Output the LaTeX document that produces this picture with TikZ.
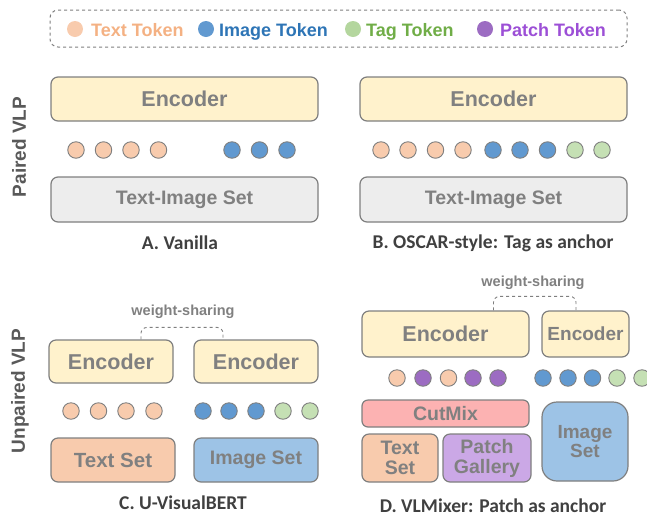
\documentclass[tikz,border=0pt]{standalone}
\usepackage{fontspec}
\setmainfont{Liberation Sans}
\newfontfamily\capfont{Carlito}

\definecolor{edgegray}{HTML}{7F7F7F}
\definecolor{labelgray}{HTML}{808080}
\definecolor{capgray}{HTML}{404040}
\definecolor{sidegray}{HTML}{595959}
\definecolor{encfill}{HTML}{FFF2CC}
\definecolor{setfill}{HTML}{EDEDED}
\definecolor{txtfill}{HTML}{F8CBAD}
\definecolor{imgfill}{HTML}{9DC3E6}
\definecolor{mixfill}{HTML}{FCB2B2}
\definecolor{patfill}{HTML}{CBA8E6}
\definecolor{txtdot}{HTML}{F8CBAD}
\definecolor{imgdot}{HTML}{6199D0}
\definecolor{tagdot}{HTML}{C5E0B4}
\definecolor{patdot}{HTML}{9C6CC2}
\definecolor{txtkey}{HTML}{F4B183}
\definecolor{imgkey}{HTML}{2E75B6}
\definecolor{tagkey}{HTML}{70AD47}
\definecolor{patkey}{HTML}{9C4FD6}

\tikzset{
  box/.style={draw=edgegray, line width=1.2pt, rounded corners=7pt, text=labelgray,
    inner sep=0pt, align=center, font=\bfseries\fontsize{19.5}{20}\selectfont},
  bigbox/.style={box, font=\bfseries\fontsize{21.5}{22}\selectfont},
  tok/.style={circle, draw=edgegray, line width=0.9pt, minimum size=16.5pt, inner sep=0pt},
  txttok/.style={fill=txtdot},
  imgtok/.style={fill=imgdot},
  tagtok/.style={fill=tagdot},
  pattok/.style={fill=patdot},
  keydot/.style={circle, minimum size=16pt, inner sep=0pt},
  keytext/.style={anchor=base west, inner sep=0pt, font=\bfseries\fontsize{18}{18}\selectfont},
  caption/.style={font=\capfont\bfseries\fontsize{19.5}{20}\selectfont, text=capgray},
  side/.style={rotate=90, font=\bfseries\fontsize{19}{20}\selectfont, text=sidegray},
  share/.style={dashed, draw=edgegray, line width=0.9pt, rounded corners=6pt},
  sharelabel/.style={font=\bfseries\fontsize{14.5}{15}\selectfont, text=labelgray},
}

\begin{document}
\begin{tikzpicture}[x=1pt,y=-1pt]
\useasboundingbox (0,0) rectangle (647,512);

% legend
\node[draw=edgegray, dashed, line width=1pt, rounded corners=8pt,
  minimum width=577pt, minimum height=37pt] (legend) at (338.5,28.5) {};
\node[keydot, fill=txtdot] (ktxt) at (75,29) {};
\node[keytext, text=txtkey] (ltxt) at (91,36) {Text Token};
\node[keydot, fill=imgdot] (kimg) at (206,29) {};
\node[keytext, text=imgkey] (limg) at (219,36) {Image Token};
\node[keydot, fill=tagdot!80!tagkey] (ktag) at (353,29) {};
\node[keytext, text=tagkey] (ltag) at (366,36) {Tag Token};
\node[keydot, fill=patdot] (kpat) at (485,29) {};
\node[keytext, text=patkey] (lpat) at (500,36) {Patch Token};

% side labels
\node[side] (paired) at (19,147) {Paired VLP};
\node[side] (unpaired) at (20,391) {Unpaired VLP};

% A. vanilla
\node[bigbox, fill=encfill, minimum width=267pt, minimum height=44pt] (encA) at (184.5,99) {Encoder};
\foreach \x [count=\i] in {76,103.5,131,158.5}
  \node[tok, txttok] (tA\i) at (\x,150) {};
\foreach \x [count=\i] in {232,259.5,287}
  \node[tok, imgtok] (iA\i) at (\x,150) {};
\node[box, fill=setfill, minimum width=267pt, minimum height=45pt] (setA) at (184.5,199.5) {Text-Image Set};
\node[caption] (capA) at (180,243) {A. Vanilla};

% B. oscar-style
\node[bigbox, fill=encfill, minimum width=267pt, minimum height=44pt] (encB) at (493.5,99) {Encoder};
\foreach \x/\c [count=\i] in {381/txttok,408/txttok,435.5/txttok,463/txttok,
    493/imgtok,520/imgtok,547.5/imgtok,575/tagtok,602/tagtok}
  \node[tok, \c] (tB\i) at (\x,150) {};
\node[box, fill=setfill, minimum width=267pt, minimum height=45pt] (setB) at (493.5,199.5) {Text-Image Set};
\node[caption] (capB) at (493,243) {B. OSCAR-style: Tag as anchor};

% C. u-visualbert
\node[bigbox, fill=encfill, minimum width=124pt, minimum height=43pt] (encC1) at (111,361.5) {Encoder};
\node[bigbox, fill=encfill, minimum width=124pt, minimum height=43pt] (encC2) at (256,361.5) {Encoder};
\node[sharelabel] (wsC) at (183,312) {weight-sharing};
\draw[share] ([xshift=30pt]encC1.north) -- ++(0,-12) -| ([xshift=-33pt]encC2.north);
\foreach \x [count=\i] in {71,98.5,126,154}
  \node[tok, txttok] (tC\i) at (\x,411) {};
\foreach \x/\c [count=\i] in {203/imgtok,229/imgtok,256/imgtok,283/tagtok,310/tagtok}
  \node[tok, \c] (iC\i) at (\x,411) {};
\node[box, fill=txtfill, minimum width=124pt, minimum height=44pt,
  font=\bfseries\fontsize{20.5}{21}\selectfont] (txtC) at (113,460) {Text Set};
\node[box, fill=imgfill, minimum width=124pt, minimum height=44pt] (imgC) at (256,460) {Image Set};
\node[caption] (capC) at (183,503) {C. U-VisualBERT};

% D. vlmixer
\node[bigbox, fill=encfill, minimum width=167pt, minimum height=46pt] (encD1) at (445.5,334) {Encoder};
\node[box, fill=encfill, minimum width=87pt, minimum height=46pt,
  font=\bfseries\fontsize{19}{20}\selectfont] (encD2) at (585.5,334) {Encoder};
\node[sharelabel] (wsD) at (533,283) {weight-sharing};
\draw[share] ([xshift=48pt]encD1.north) -- ++(0,-14) -| ([xshift=-9.5pt]encD2.north);
\foreach \x/\c [count=\i] in {397/txttok,423/pattok,448.5/txttok,473/pattok,498/pattok}
  \node[tok, \c] (tD\i) at (\x,378) {};
\foreach \x/\c [count=\i] in {543/imgtok,568/imgtok,592.5/imgtok,617/tagtok,642/tagtok}
  \node[tok, \c] (iD\i) at (\x,378) {};
\node[box, fill=mixfill, rounded corners=6pt, minimum width=167pt, minimum height=27pt] (mixD) at (445.5,413.5) {CutMix};
\node[box, fill=txtfill, minimum width=76pt, minimum height=48pt] (txtD) at (400,458) {Text\\Set};
\node[box, fill=patfill, minimum width=88pt, minimum height=48pt] (patD) at (487,458) {Patch\\Gallery};
\node[box, fill=imgfill, rounded corners=15pt, minimum width=86pt, minimum height=79pt,
  font=\bfseries\fontsize{19}{19}\selectfont] (imgD) at (585,441.5) {Image\\Set};
\node[caption] (capD) at (493,506) {D. VLMixer: Patch as anchor};
\end{tikzpicture}
\end{document}
